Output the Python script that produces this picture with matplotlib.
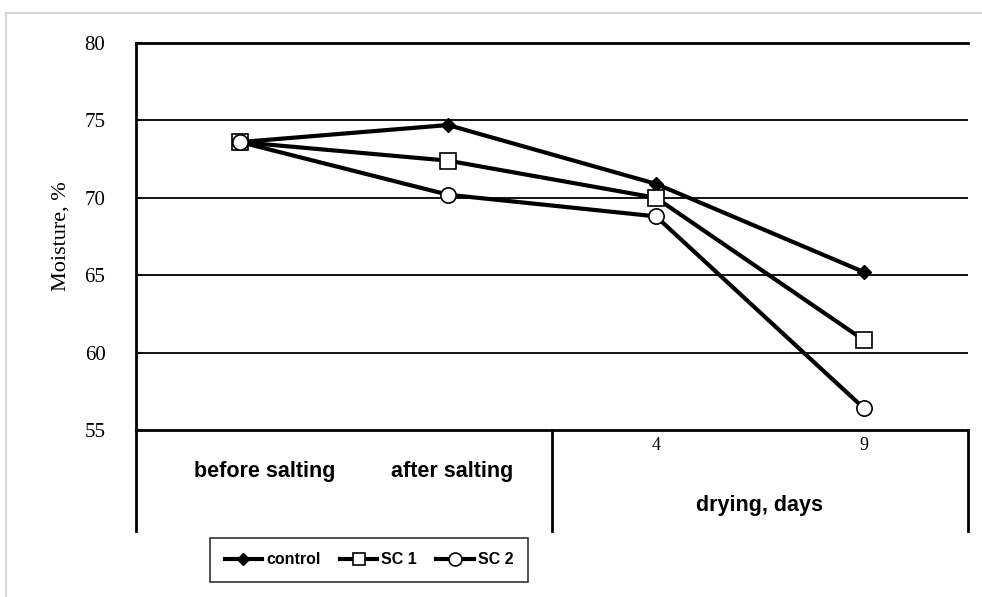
import matplotlib.pyplot as plt
from matplotlib.lines import Line2D

stages = ['before salting', 'after salting', '4', '9']
control = [73.6, 74.7, 70.9, 65.2]
sc1 = [73.6, 72.4, 70.0, 60.8]
sc2 = [73.6, 70.2, 68.8, 56.4]
yticks = [55, 60, 65, 70, 75, 80]

fig = plt.figure(figsize=(9.82, 5.97), dpi=100)
W, H = 982, 597
ax = fig.add_axes([136 / W, (H - 430) / H, 832 / W, 387 / H])

# outer light frame
fig.add_artist(Line2D([6 / W, 6 / W], [0, (H - 13) / H], color='#d8d8d8', lw=1.5))
fig.add_artist(Line2D([6 / W, 1], [(H - 13) / H, (H - 13) / H], color='#d8d8d8', lw=1.5))

x = range(len(stages))
ax.plot(x, control, color='black', lw=3, marker='D', ms=7, mfc='black', mec='black', label='control')
ax.plot(x, sc1, color='black', lw=3, marker='s', ms=11, mfc='white', mec='black', mew=1.2, label='SC 1')
ax.plot(x, sc2, color='black', lw=3, marker='o', ms=11, mfc='white', mec='black', mew=1.2, label='SC 2')

ax.set_xlim(-0.5, 3.5)
ax.set_ylim(55, 80)
for v in yticks[1:-1]:
    ax.axhline(v, color='black', lw=1.3, zorder=0)
ax.set_yticks(yticks)
ax.set_yticklabels([str(v) for v in yticks], fontfamily='Liberation Serif', fontsize=15)
ax.tick_params(axis='y', direction='in', length=4, width=1.5, pad=22)
ax.set_xticks([])
ax.spines['right'].set_visible(False)
for s in ['left', 'top', 'bottom']:
    ax.spines[s].set_linewidth(2)
ax.set_ylabel('Moisture, %', fontfamily='Liberation Serif', fontsize=16, labelpad=10)

# category table below the axis
lab_font = dict(family='Liberation Sans', weight='bold', fontsize=15.5)
for xv in [-0.5, 1.5, 3.5]:
    ax.plot([xv, xv], [55, 48.5], color='black', lw=2, clip_on=False)
ax.text(0.12, 52.3, stages[0], ha='center', va='center', **lab_font)
ax.text(1.02, 52.3, stages[1], ha='center', va='center', **lab_font)
ax.text(2.0, 54.0, stages[2], ha='center', va='center', fontfamily='Liberation Serif', fontsize=13)
ax.text(3.0, 54.0, stages[3], ha='center', va='center', fontfamily='Liberation Serif', fontsize=13)
ax.text(2.5, 50.1, 'drying, days', ha='center', va='center', **lab_font)

leg = fig.legend(loc='center', bbox_to_anchor=(369 / W, (H - 560) / H), ncol=3,
                 frameon=True, fancybox=False, edgecolor='black', handlelength=2.35,
                 handletextpad=0.25, columnspacing=1.2, borderpad=0.9, markerscale=0.85,
                 prop=dict(family='Liberation Sans', weight='bold', size=11.5))
leg.get_frame().set_linewidth(1.2)

fig.savefig('out.png', dpi=100, facecolor='white')
